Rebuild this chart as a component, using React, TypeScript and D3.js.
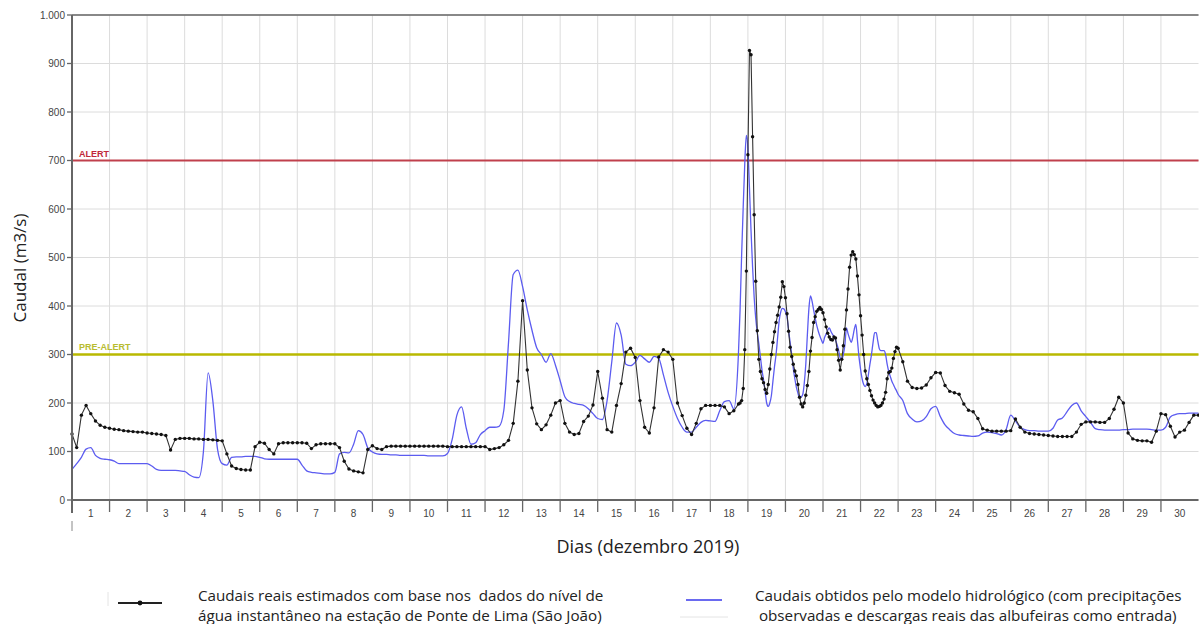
import React from 'react'
import * as d3 from 'd3'

const width = 1199
const height = 624
const margin = { top: 15, right: 0, bottom: 124, left: 72 }

const days = d3.range(1, 31)
const yTicks = [0, 100, 200, 300, 400, 500, 600, 700, 800, 900, 1000]
const yTickLabels = ['0', '100', '200', '300', '400', '500', '600', '700', '800', '900', '1.000']

const alertLevel = 700
const preAlertLevel = 300

// observed flow, every 3 hours from hour 0 (up to hour 423)
const obsEarly = [
  136, 108, 175, 195, 178, 163, 154, 150,
  148, 146, 145, 143, 142, 141, 140, 140,
  138, 137, 136, 135, 133, 103, 125, 127,
  127, 127, 126, 126, 125, 125, 124, 123,
  122, 95, 70, 65, 63, 62, 62, 110,
  119, 117, 104, 95, 116, 118, 118, 118,
  118, 118, 117, 106, 114, 116, 116, 116,
  116, 108, 80, 64, 60, 58, 56, 104,
  112, 106, 104, 110, 111, 111, 111, 111,
  111, 111, 111, 111, 111, 111, 111, 111,
  110, 110, 110, 110, 110, 110, 110, 110,
  110, 104, 106, 108, 114, 123, 158, 245,
  411, 268, 190, 157, 145, 155, 175, 200,
  205, 158, 140, 135, 137, 162, 173, 196,
  265, 210, 145, 140, 195, 240, 305, 313,
  294, 205, 150, 138, 190, 295, 310, 305,
  290, 200, 174, 148, 135, 158, 188, 195,
  195, 195, 195, 192, 178, 184,
]

// observed flow, hourly from hour 426 to 528 (flood of 18-22 Dec)
const obsFlood = [
  198, 200, 205, 230, 310, 472, 712, 927, 918, 749,
  588, 451, 349, 290, 265, 250, 242, 228, 220, 238,
  270, 300, 325, 347, 366, 381, 398, 418, 450, 440,
  417, 384, 348, 315, 296, 280, 266, 256, 238, 212,
  198, 192, 200, 216, 236, 265, 307, 335, 366, 378,
  389, 393, 397, 393, 386, 372, 357, 344, 336, 331,
  330, 336, 334, 310, 288, 268, 290, 318, 352, 392,
  435, 480, 505, 512, 506, 497, 462, 423, 380, 340,
  300, 266, 250, 238, 226, 215, 206, 200, 195, 192,
  193, 195, 200, 208, 222, 250, 263, 265, 272, 292,
  306, 315, 313,
]

// observed flow, every 3 hours from hour 531 to 720
const obsLate = [
  285, 245, 232, 230, 231, 237, 252,
  263, 262, 236, 224, 221, 218, 198, 185,
  182, 168, 147, 144, 142, 142, 142, 142,
  143, 167, 150, 140, 137, 136, 135, 134,
  133, 132, 131, 131, 131, 131, 140, 156,
  161, 161, 161, 160, 160, 168, 187, 212,
  200, 138, 126, 123, 122, 122, 119, 142,
  178, 176, 152, 130, 140, 144, 160, 175, 175,
]

// hydrological model, same time steps
const modelEarly = [
  63, 75, 88, 105, 108, 92, 86, 84,
  83, 80, 75, 75, 75, 75, 75, 75,
  75, 70, 63, 61, 61, 61, 61, 60,
  59, 52, 47, 46, 100, 262, 205, 105,
  75, 72, 88, 89, 89, 90, 90, 90,
  88, 85, 84, 84, 84, 84, 84, 84,
  84, 72, 60, 57, 56, 55, 54, 54,
  57, 95, 98, 97, 115, 143, 135, 108,
  99, 95, 94, 94, 93, 93, 92, 92,
  92, 92, 92, 92, 91, 91, 91, 91,
  96, 125, 175, 192, 148, 115, 118, 135,
  143, 150, 150, 152, 185, 325, 465, 474,
  440, 392, 350, 314, 300, 284, 302, 278,
  246, 213, 203, 199, 197, 195, 188, 178,
  168, 166, 205, 285, 365, 340, 280, 277,
  284, 298, 291, 284, 296, 292, 258, 222,
  193, 168, 150, 140, 140, 150, 160, 164,
  163, 162, 184, 203, 205, 188,
]

const modelFlood = [
  305, 392, 506, 604, 694, 752, 725, 643, 555, 480,
  418, 375, 345, 322, 295, 268, 248, 224, 200, 193,
  200, 215, 245, 275, 300, 335, 370, 388, 395, 394,
  388, 378, 350, 325, 300, 272, 250, 232, 220, 210,
  212, 217, 240, 280, 340, 395, 421, 410, 392, 375,
  360, 348, 338, 330, 323, 335, 342, 350, 355, 348,
  342, 337, 330, 320, 308, 293, 290, 300, 320, 355,
  343, 333, 325, 335, 352, 362, 330, 295, 270, 250,
  238, 234, 240, 258, 280, 300, 325, 345, 345, 328,
  312, 308, 308, 308, 300, 280, 265, 255, 245, 238,
  231, 225, 218,
]

const modelLate = [
  205, 178, 167, 161, 163, 172, 188,
  193, 172, 155, 145, 137, 134, 133, 132,
  131, 132, 138, 140, 139, 137, 134, 145,
  175, 163, 150, 145, 143, 143, 142, 142,
  142, 148, 165, 169, 182, 195, 200, 184,
  172, 160, 147, 145, 144, 144, 144, 144,
  145, 145, 146, 146, 146, 146, 145, 144,
  144, 150, 171, 176, 178, 178, 179, 179, 179,
]

const legendObserved = [
  'Caudais reais estimados com base nos  dados do nível de',
  'água instantâneo na estação de Ponte de Lima (São João)',
]
const legendModel = [
  'Caudais obtidos pelo modelo hidrológico (com precipitações',
  ' observadas e descargas reais das albufeiras como entrada)',
]

function joinSeries(early: number[], flood: number[], late: number[]) {
  return [
    ...early.map((v, i) => ({ h: i * 3, v })),
    ...flood.map((v, i) => ({ h: 426 + i, v })),
    ...late.map((v, i) => ({ h: 531 + i * 3, v })),
  ]
}

const observed = joinSeries(obsEarly, obsFlood, obsLate)
const model = joinSeries(modelEarly, modelFlood, modelLate)

export default function App() {
  const chartW = 30 * 37.55
  const x = d3.scaleLinear().domain([0, 30 * 24]).range([margin.left, margin.left + chartW])
  const y = d3.scaleLinear().domain([0, 1000]).range([500, margin.top])
  const xDay = (d: number) => x((d - 1) * 24)

  const obsLine = d3.line<{ h: number; v: number }>()
    .x(d => x(d.h)).y(d => y(d.v))
  const modelLine = d3.line<{ h: number; v: number }>()
    .x(d => x(d.h)).y(d => y(d.v)).curve(d3.curveMonotoneX)

  const axisColor = '#666'
  const tickFont = '"Liberation Sans", Arial, sans-serif'
  const titleFont = '"Open Sans", "Noto Sans", sans-serif'
  const right = x(720)

  return (
    <svg width={width} height={height} style={{ position: 'absolute', left: 0, top: 0, background: '#fff' }}>
      {/* grid */}
      <g stroke="#dcdcdc" strokeWidth={1}>
        {yTicks.map(t => (
          <line key={'h' + t} x1={margin.left} x2={right} y1={y(t)} y2={y(t)} />
        ))}
        {days.map(d => (
          <line key={'v' + d} x1={xDay(d)} x2={xDay(d)} y1={margin.top} y2={y(0)} />
        ))}
      </g>

      {/* threshold lines */}
      <line x1={margin.left} x2={right} y1={y(alertLevel)} y2={y(alertLevel)} stroke="#c0404c" strokeWidth={2} />
      <text x={79} y={y(alertLevel) - 4} fontFamily={tickFont} fontSize={9} fontWeight="bold" fill="#c0283a">ALERT</text>
      <line x1={margin.left} x2={right} y1={y(preAlertLevel)} y2={y(preAlertLevel)} stroke="#b9b900" strokeWidth={2.5} />
      <text x={79} y={y(preAlertLevel) - 5} fontFamily={tickFont} fontSize={9} fontWeight="bold" fill="#b8bc30">PRE-ALERT</text>

      {/* series */}
      <path d={modelLine(model) || ''} fill="none" stroke="#5c5cf0" strokeWidth={1.3} />
      <path d={obsLine(observed) || ''} fill="none" stroke="#333" strokeWidth={1.1} />
      <g fill="#111">
        {observed.map((d, i) => (
          <circle key={i} cx={x(d.h)} cy={y(d.v)} r={1.7} />
        ))}
      </g>

      {/* axes */}
      <line x1={margin.left} x2={right} y1={margin.top} y2={margin.top} stroke={axisColor} strokeWidth={1.5} />
      <line x1={margin.left} x2={margin.left} y1={margin.top} y2={513} stroke={axisColor} strokeWidth={2} />
      <line x1={margin.left} x2={right} y1={y(0)} y2={y(0)} stroke={axisColor} strokeWidth={2} />
      <line x1={margin.left} x2={margin.left} y1={521} y2={531} stroke="#888" strokeWidth={1} />
      <g stroke={axisColor} strokeWidth={1.3}>
        {days.map(d => (
          <line key={'t' + d} x1={xDay(d)} x2={xDay(d)} y1={y(0)} y2={512} />
        ))}
        {yTicks.map(t => (
          <line key={'yt' + t} x1={margin.left - 5} x2={margin.left} y1={y(t)} y2={y(t)} />
        ))}
      </g>
      <g fontFamily={tickFont} fontSize={10} fill="#444">
        {yTicks.map((t, i) => (
          <text key={'yl' + t} x={margin.left - 7} y={y(t) + 3.5} textAnchor="end">{yTickLabels[i]}</text>
        ))}
        {days.map(d => (
          <text key={'xl' + d} x={xDay(d) + 37.55 / 2} y={517} textAnchor="middle">{d}</text>
        ))}
      </g>

      {/* titles */}
      <text transform={`translate(26, 268) rotate(-90)`} textAnchor="middle" fontFamily={titleFont} fontSize={17} fill="#222">Caudal (m3/s)</text>
      <text x={648} y={553} textAnchor="middle" fontFamily={titleFont} fontSize={18} fill="#222">Dias (dezembro 2019)</text>

      {/* legend */}
      <line x1={108} x2={108} y1={592} y2={606} stroke="#e4e4e4" />
      <line x1={118} x2={162} y1={603} y2={603} stroke="#222" strokeWidth={2} />
      <circle cx={140} cy={603} r={2.4} fill="#111" />
      <g fontFamily={titleFont} fontSize={15.2} fill="#222">
        <text x={198} y={601} xmlSpace="preserve" style={{ whiteSpace: 'pre' }}>{legendObserved[0]}</text>
        <text x={198} y={621} xmlSpace="preserve" style={{ whiteSpace: 'pre' }}>{legendObserved[1]}</text>
        <text x={755} y={601} xmlSpace="preserve" style={{ whiteSpace: 'pre' }}>{legendModel[0]}</text>
        <text x={755} y={621} xmlSpace="preserve" style={{ whiteSpace: 'pre' }}>{legendModel[1]}</text>
      </g>
      <line x1={686} x2={722} y1={600} y2={600} stroke="#6a6af0" strokeWidth={2} />
      <line x1={680} x2={728} y1={617} y2={617} stroke="#e4e4e4" />
    </svg>
  )
}
